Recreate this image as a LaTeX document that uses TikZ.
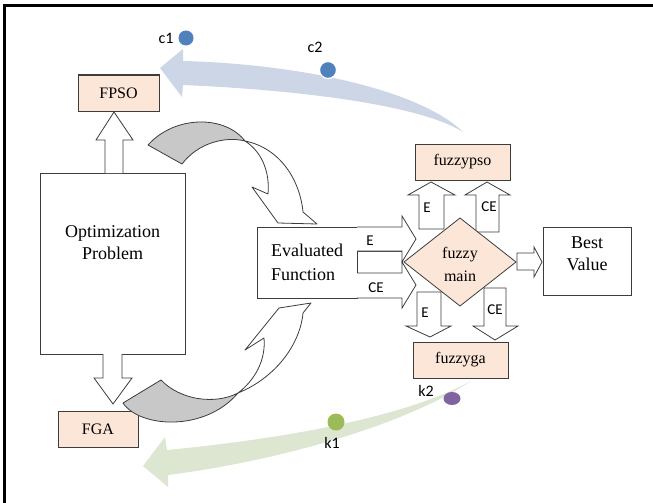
\documentclass[tikz,border=0pt]{standalone}
\usepackage{fontspec}
\setmainfont{Liberation Serif}
\newfontfamily\tagfamily{Carlito}
\definecolor{peach}{HTML}{FCE6D8}
\definecolor{edge}{HTML}{3C3C3C}
\definecolor{bandblue}{HTML}{CDD6E7}
\definecolor{bandgreen}{HTML}{DCE6D0}
\definecolor{dotblue}{HTML}{4F81BD}
\definecolor{dotgreen}{HTML}{9BBB59}
\definecolor{dotpurple}{HTML}{8064A2}
\definecolor{backside}{HTML}{C8C8C8}
\begin{document}
\begin{tikzpicture}[x=1pt,y=-1pt,
  box/.style={draw=edge, line width=1pt, inner sep=0pt, outer sep=0pt, rectangle},
  peachbox/.style={box, fill=peach, font=\fontsize{16}{20}\selectfont},
  bigtext/.style={align=center, inner sep=0pt, font=\fontsize{18}{22}\selectfont},
  blockarrow/.style={draw=edge, fill=white, line width=0.8pt, line join=miter},
  curvearrow/.style={draw=edge, line width=0.8pt, line join=round},
  tag/.style={inner sep=0pt, font=\tagfamily\fontsize{15}{15}\selectfont},
  dot/.style={circle, inner sep=0pt, minimum size=#1}]
\useasboundingbox (0,0) rectangle (653,503);

% frame
\draw[line width=2.6pt] (4.7,510) -- (4.7,5.8) -- (660,5.8);

% translucent feedback arrows
\fill[bandblue] (160,68) -- (183,49) -- (183,61)
  .. controls (300,64) and (420,90) .. (463,132)
  .. controls (420,105) and (300,90) .. (183,85) -- (182,97) -- cycle;
\fill[bandgreen] (143,466) -- (165,437) -- (167,450)
  .. controls (270,440) and (400,420) .. (471,381)
  .. controls (400,428) and (270,462) .. (168,475) -- (168,487) -- cycle;

% markers on the feedback arrows
\node[dot=15pt, fill=dotblue] (c1dot) at (186,38) {};
\node[dot=17pt, fill=dotblue, draw=white, line width=1.2pt] (c2dot) at (328,70) {};
\node[dot=17pt, fill=dotgreen] (k1dot) at (336,422) {};
\fill[dotpurple] (452,398.5) ellipse (8.5 and 6.5);
\node[tag, font=\tagfamily\fontsize{16}{16}\selectfont] (c1) at (166,38) {c1};
\node[tag, font=\tagfamily\fontsize{16}{16}\selectfont] (c2) at (315,47) {c2};
\node[tag, font=\tagfamily\fontsize{16}{16}\selectfont] (k1) at (332,443) {k1};
\node[tag, font=\tagfamily\fontsize{16}{16}\selectfont] (k2) at (426,391) {k2};

% boxes
\node[box, minimum width=145pt, minimum height=181pt] (opt) at (112.5,263.5) {};
\node[bigtext] (opttext) at (112.5,243) {Optimization\\Problem};
\node[peachbox, minimum width=81pt, minimum height=36pt] (fpso) at (118.5,93) {FPSO};
\node[peachbox, minimum width=80pt, minimum height=36pt] (fga) at (98,429) {FGA};
\node[box, minimum width=100pt, minimum height=71pt, align=left,
      font=\fontsize{18}{24}\selectfont] (eval) at (307,262.5) {Evaluated\\Function};
\node[peachbox, minimum width=95pt, minimum height=36pt] (fpsoz) at (462.5,162) {fuzzypso};
\node[peachbox, minimum width=95pt, minimum height=36pt] (fgaz) at (460.5,360) {fuzzyga};
\node[box, minimum width=88pt, minimum height=68pt] (best) at (587,261) {};
\node[bigtext] (besttext) at (587,254) {Best\\Value};

% block arrows out of the optimization problem
\draw[blockarrow] (105,173) -- (105,140) -- (96,140) -- (114,112) -- (133,140) -- (123,140) -- (123,173);
\draw[blockarrow] (103,354) -- (103,378) -- (94,378) -- (113,404) -- (132,378) -- (122,378) -- (122,354);

% curved arrows into the evaluated function
\filldraw[curvearrow, fill=backside] (148,145)
  .. controls (175,115) and (225,115) .. (245,141)
  .. controls (225,136) and (198,143) .. (182,164) -- cycle;
\filldraw[curvearrow, fill=white] (245,141)
  .. controls (280,148) and (300,180) .. (303,212)
  -- (317,224) -- (278,223) -- (252,187) -- (268,194)
  .. controls (270,172) and (262,152) .. (245,141) -- cycle;
\filldraw[curvearrow, fill=backside] (123,403)
  .. controls (140,428) and (205,432) .. (238,393)
  .. controls (215,405) and (180,400) .. (161,380) -- cycle;
\filldraw[curvearrow, fill=white] (238,393)
  .. controls (255,380) and (266,360) .. (264,338)
  -- (245,350) -- (279,308) -- (311,303) -- (303,313)
  .. controls (300,345) and (275,378) .. (238,393) -- cycle;

% three outputs of the evaluated function
\draw[blockarrow] (357,251) rectangle (402,273);
\draw[blockarrow] (357,227) -- (402,227) -- (402,216) -- (416,239) -- (402,262) -- (402,251) -- (357,251);
\draw[blockarrow] (357,273) -- (402,273) -- (402,262) -- (416,285) -- (402,308) -- (402,298) -- (357,298);
\node[tag] (ein) at (370,241) {E};
\node[tag] (cein) at (376,288) {CE};

% arrows to and from the fuzzy decision
\draw[blockarrow] (419,229) -- (419,195) -- (408,195) -- (431,182) -- (455,195) -- (444,195) -- (444,229) -- cycle;
\draw[blockarrow] (476,232) -- (476,195) -- (465,195) -- (487,182) -- (510,195) -- (499,195) -- (499,232) -- cycle;
\draw[blockarrow] (417,292) -- (417,326) -- (406,326) -- (430,337) -- (451,326) -- (441,326) -- (441,292) -- cycle;
\draw[blockarrow] (484,288) -- (484,326) -- (473,326) -- (495,340) -- (518,326) -- (506,326) -- (506,288) -- cycle;
\draw[blockarrow] (517,253) -- (534,253) -- (534,247) -- (542,262) -- (534,277) -- (534,270) -- (517,270) -- cycle;
\node[tag] (eup) at (427,208) {E};
\node[tag] (ceup) at (489,207) {CE};
\node[tag] (edown) at (425,313) {E};
\node[tag] (cedown) at (495,310) {CE};

% fuzzy main decision
\filldraw[draw=edge, line width=0.8pt, fill=peach] (404,262) -- (460,218) -- (516,262) -- (460,306) -- cycle;
\node[align=center, inner sep=0pt, font=\fontsize{16}{23}\selectfont] (fmain) at (460,264) {fuzzy\\main};
\end{tikzpicture}
\end{document}
